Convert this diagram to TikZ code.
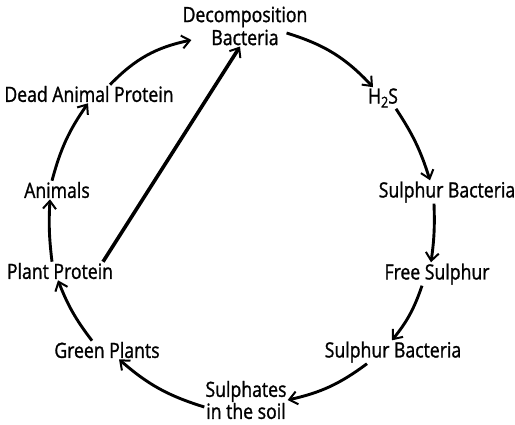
\documentclass[tikz,border=0pt]{standalone}
\usepackage{fontspec}
\setmainfont{Open Sans}[FakeStretch=0.84, FakeBold=1.2]
\usetikzlibrary{arrows.meta, positioning}

\tikzset{
  lbl/.style={inner sep=1pt, align=center, font=\fontsize{21}{23}\selectfont},
  cyc/.style={line width=2.9pt, -{Straight Barb[length=8pt,width=13pt,line width=2pt]}},
}

\begin{document}
\begin{tikzpicture}[x=1pt, y=-1pt]

            % page
            \useasboundingbox (0,0) rectangle (515,425);

            % stations of the cycle
            \node[lbl] (decomp) at (245,26) {Decomposition\\Bacteria};
            \node[lbl] (hs) at (383,98) {H\raisebox{-4pt}{\fontsize{15}{15}\selectfont 2}S};
            \node[lbl] (sbup) at (447,192) {Sulphur Bacteria};
            \node[lbl] (free) at (437,274) {Free Sulphur};
            \node[lbl] (sblow) at (393,352) {Sulphur Bacteria};
            \node[lbl, font=\fontsize{21}{17}\selectfont] (soil) at (246,400) {Sulphates\\in the soil};
            \node[lbl] (green) at (107,350) {Green Plants};
            \node[lbl] (plant) at (60,271) {Plant Protein};
            \node[lbl] (animals) at (57,190) {Animals};
            \node[lbl] (dead) at (89,94) {Dead Animal Protein};

            % arrows round the circle
            \draw[cyc] ([xshift=21pt]dead.north) to[bend left=17] ([shift={(10pt,-14pt)}]decomp.west);
            \draw[cyc] ([shift={(-22pt,-7pt)}]decomp.east) to[bend left=15] ([xshift=-10pt]hs.north);
            \draw[cyc] ([xshift=13pt]hs.south) to[bend left=8] ([xshift=-17pt]sbup.north);
            \draw[cyc] ([xshift=-13pt]sbup.south) to[bend left=5] ([xshift=-6pt]free.north);
            \draw[cyc] ([xshift=-15pt]free.south) to[bend left=10] ([xshift=-1pt]sblow.north);
            \draw[cyc] ([xshift=-26pt]sblow.south) to[bend left=12] (soil.east);
            \draw[cyc] ([yshift=-7pt]soil.west) to[bend left=12] ([xshift=12pt]green.south);
            \draw[cyc] ([xshift=-15pt]green.north) to[bend left=8] ([xshift=-2pt]plant.south);
            \draw[cyc] ([xshift=-8pt]plant.north) to[bend left=5] ([xshift=-7pt]animals.south);
            \draw[cyc] ([xshift=-5pt]animals.north) to[bend left=10] ([xshift=-1pt]dead.south);

            % short cut from plants
            \draw[cyc, line width=3.6pt] ([xshift=43pt]plant.north) -- ([xshift=-5pt]decomp.south);

            \end{tikzpicture}
\end{document}
